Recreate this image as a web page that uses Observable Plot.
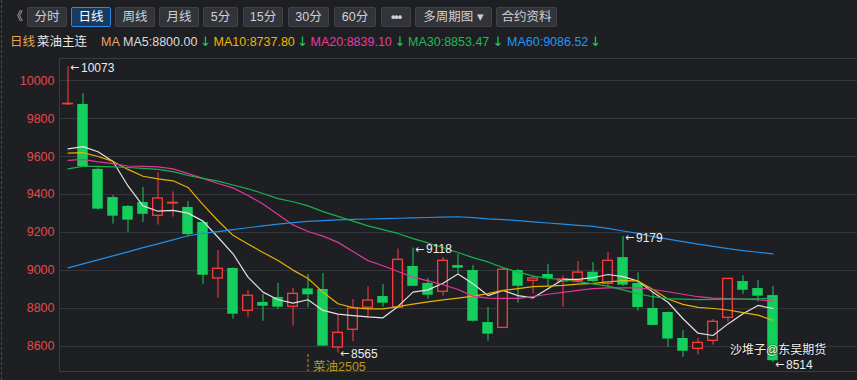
<!DOCTYPE html>
<html><head><meta charset="utf-8">
<script src="https://cdn.jsdelivr.net/npm/d3@7"></script>
<script src="https://cdn.jsdelivr.net/npm/@observablehq/plot@0.6"></script>
<style>
html,body{margin:0;padding:0;background:#1e1f23;}
#wrap{position:relative;width:857px;height:380px;overflow:hidden;background:#1e1f23;font-family:"Liberation Sans","Noto Sans CJK SC",sans-serif;}
#chart{position:absolute;left:0;top:0;}
#edge{position:absolute;left:1px;top:0;height:380px;border-left:1px dashed #4a4b50;}
.btn{position:absolute;top:7px;height:20px;line-height:18px;box-sizing:border-box;border:1px solid #414247;background:#333439;color:#cfd0d3;font-size:12.5px;text-align:center;border-radius:2px;white-space:nowrap;}
.btn.active{background:#183a5e;border-color:#2b8ae6;color:#ffffff;}
.lg{position:absolute;top:34px;height:16px;line-height:16px;font-size:12.5px;white-space:nowrap;}
.ar{position:absolute;top:34px;height:16px;line-height:16px;font-size:13px;font-family:"DejaVu Sans",sans-serif;color:#1ecf5e;}
.wm{position:absolute;font-size:12px;line-height:12px;height:12px;color:#f2f2f2;white-space:nowrap;text-shadow:0 0 2px #000;}
</style></head>
<body><div id="wrap"><div id="edge"></div><div id="chart"></div><div id="hdr"></div></div>
<script>
// ---- data ----
const openP  = [9875,9874,9532,9384,9337,9358,9288,9353,9332,9253,8958,9011,8788,8832,8858,8809,8903,8900,8595,8688,8804,8863,8804,9021,8932,8888,9026,9000,8726,8698,9000,8946,8979,8942,8944,8991,8930,9068,8932,8800,8779,8642,8588,8630,8751,8942,8905,8868];
const highP  = [10073,9930,9540,9395,9342,9437,9514,9414,9363,9260,9105,9013,8895,8874,8932,8905,8979,8984,8763,8847,8914,8926,9113,9118,8958,9068,9084,9026,8805,9012,9005,8972,9032,8972,9047,9042,9095,9179,8988,8883,8781,8684,8642,8742,8958,8972,8947,8916];
const lowP   = [9868,9545,9318,9244,9202,9254,9239,9281,9175,8928,8854,8744,8754,8733,8795,8707,8804,8600,8565,8625,8746,8807,8802,8915,8849,8865,8983,8728,8628,8696,8828,8877,8915,8807,8934,8937,8909,8917,8786,8709,8596,8544,8556,8607,8728,8875,8835,8514];
const closeP = [9877,9547,9323,9286,9265,9296,9379,9356,9189,8975,9009,8770,8867,8812,8807,8877,8872,8602,8672,8800,8842,8828,9056,8917,8870,9051,9012,8733,8665,9004,8917,8958,8956,8953,8989,8942,9051,8923,8805,8711,8639,8575,8619,8730,8956,8896,8865,8525];

const ma5  = [9640,9652,9625,9574,9445,9340,9312,9316,9302,9260,9175,9088,8965,8886,8846,8828,8846,8790,8770,8763,8756,8751,8811,8886,8898,8933,8982,8930,8868,8895,8868,8856,8904,8953,8953,8962,8979,8968,8944,8886,8833,8746,8670,8658,8719,8772,8816,8800];
const ma10 = [9618,9620,9600,9574,9532,9496,9482,9472,9437,9347,9262,9185,9140,9095,9053,9002,8958,8886,8825,8805,8798,8798,8810,8823,8835,8845,8855,8865,8878,8895,8905,8915,8918,8922,8928,8932,8940,8947,8945,8900,8850,8822,8806,8800,8792,8778,8765,8738];
const ma20 = [9580,9585,9572,9562,9550,9548,9545,9535,9510,9485,9458,9435,9395,9350,9295,9240,9205,9181,9148,9100,9052,9025,8995,8965,8945,8925,8900,8865,8855,8853,8853,8863,8875,8885,8895,8905,8909,8909,8909,8900,8888,8875,8862,8855,8852,8850,8846,8839];
const ma30 = [9535,9548,9548,9545,9542,9538,9532,9520,9500,9485,9470,9450,9430,9405,9378,9362,9340,9310,9285,9260,9235,9215,9195,9168,9145,9120,9095,9068,9045,9015,8993,8970,8960,8950,8942,8930,8918,8898,8877,8862,8852,8849,8847,8848,8849,8850,8851,8853];
const ma60 = [9014,9035,9056,9077,9098,9120,9140,9161,9183,9195,9205,9215,9225,9235,9244,9252,9259,9263,9266,9269,9271,9273,9275,9277,9279,9281,9283,9278,9272,9268,9262,9256,9250,9244,9238,9232,9222,9208,9195,9178,9165,9152,9139,9127,9115,9105,9096,9087];

const yTicks = [8600,8800,9000,9200,9400,9600,9800,10000];
const maNames  = ["MA5","MA10","MA20","MA30","MA60"];
const maLegendValues = ["8800.00","8737.80","8839.10","8853.47","9086.52"];
const highMarkers = [0,23,37];   // candle indices labelled with their high
const lowMarkers  = [18,47];     // candle indices labelled with their low
const rolloverIndex = 16;
const rolloverLabel = "菜油2505";
const periodLabel = "日线";
const contractLabel = "菜油主连";
const toolbarLabels = ["分时","日线","周线","月线","5分","15分","30分","60分","•••","多周期图 ▾","合约资料"];
const watermark = "沙堆子@东吴期货";

// ---- styles / layout ----
const BG = "#1e1f23", UP = "#ff3c3c", DOWN = "#14cf5b";
const maColors = ["#e2e2e2","#e8b100","#e0369c","#16b24c","#1f8fe8"];
const legendColors = ["#dcdcdc","#f2b400","#ea3aa2","#1dbb55","#2196f3"];

const bars = openP.map((o,i)=>({i, open:o, high:highP[i], low:lowP[i], close:closeP[i], up: closeP[i] >= o}));
const maSeries = [ma5,ma10,ma20,ma30,ma60];
const markerGroups = [
  {items: highMarkers.map(i=>({i, v:highP[i]})), dy: 1.5},
  {items: lowMarkers.slice(0,1).map(i=>({i, v:lowP[i]})), dy: 1},
  {items: lowMarkers.slice(1).map(i=>({i, v:lowP[i]})), dy: 2}
];
const markerMarks = markerGroups.flatMap(g => [
  Plot.text(g.items, {x: "i", y: "v", text: () => "←", dx: 2, dy: g.dy - 0.5, textAnchor: "start", lineAnchor: "middle", fill: "#e8e8e8", fontSize: 11, fontFamily: "DejaVu Sans"}),
  Plot.text(g.items, {x: "i", y: "v", text: d => String(d.v), dx: 13, dy: g.dy, textAnchor: "start", lineAnchor: "middle", fill: "#ececec", fontSize: 12})
]);

const x0 = -17/30;
const chart = Plot.plot({
  width: 857, height: 380,
  marginTop: 58, marginBottom: 9, marginLeft: 59, marginRight: 0,
  style: {background: "transparent", fontFamily: "Liberation Sans, Noto Sans CJK SC, sans-serif"},
  x: {type: "linear", domain: [x0, x0 + 798/15], axis: null},
  y: {domain: [8468.42, 10115.79], axis: null},
  marks: [
    Plot.gridY(yTicks, {stroke: "#36373c", strokeOpacity: 1}),
    Plot.frame({anchor: "top", stroke: "#3a3b40"}),
    Plot.frame({anchor: "bottom", stroke: "#3a3b40"}),
    Plot.frame({anchor: "left", stroke: "#3a3b40"}),
    Plot.axisY(yTicks, {tickSize: 0, tickPadding: 5, fill: "#e5484d", fontSize: 12.5, tickFormat: d => String(d)}),
    Plot.ruleX(bars, {x: "i", y1: "low", y2: "high", stroke: d => d.up ? UP : DOWN, strokeWidth: 1}),
    Plot.rect(bars.filter(d=>!d.up), {x1: d => d.i - 0.35, x2: d => d.i + 0.35, y1: "open", y2: "close", fill: DOWN}),
    Plot.rect(bars.filter(d=>d.up), {x1: d => d.i - 0.32, x2: d => d.i + 0.32, y1: "open", y2: "close", fill: BG, stroke: UP, strokeWidth: 1.3}),
    ...maSeries.map((s,k)=>Plot.line(s, {x: (d,i)=>i, y: d=>d, stroke: maColors[k], strokeWidth: 1.2})),
    Plot.ruleX([rolloverIndex], {stroke: "#c98a3c", strokeDasharray: "3,2", insetTop: 296}),
    Plot.text([rolloverLabel], {x: [rolloverIndex], text: d=>d, frameAnchor: "bottom", dx: 5, dy: -5, textAnchor: "start", lineAnchor: "middle", fill: "#b9991c", fontSize: 12.5}),
    ...markerMarks
  ]
});
document.getElementById("chart").appendChild(chart);

// ---- header (toolbar + MA legend) ----
const hdr = document.getElementById("hdr");
function add(cls, text, css){ const d=document.createElement("div"); d.className=cls; d.textContent=text; Object.assign(d.style, css); hdr.appendChild(d); return d; }
add("lg", "《", {left:"11px", top:"8px", color:"#bbbbbb", fontSize:"12px", lineHeight:"18px"});
const btnLeft = [27,71,115,159,203,243,288,334,381,415,496];
const btnWidth = [40,40,40,40,35,40,41,42,30,77,61];
toolbarLabels.forEach((t,k)=>{
  const b = add("btn"+(t===periodLabel?" active":""), t, {left:btnLeft[k]+"px", width:btnWidth[k]+"px"});
  if (t==="•••") { b.style.fontWeight="bold"; b.style.letterSpacing="-1px"; }
});
add("lg", periodLabel, {left:"10px", color:"#f0a24a"});
add("lg", contractLabel, {left:"37px", color:"#e6e6e6"});
add("lg", "MA", {left:"101px", color:"#f0a060"});
const lgLeft = [123,213.5,310.5,408,507];
const arLeft = [200,297,394.5,492.5,590];
maNames.forEach((n,k)=>{
  add("lg", n + ":" + maLegendValues[k], {left: lgLeft[k]+"px", color: legendColors[k]});
  add("ar", "↓", {left: arLeft[k]+"px"});
});
add("wm", watermark, {left:"730px", top:"344px"});
</script>
</body></html>
